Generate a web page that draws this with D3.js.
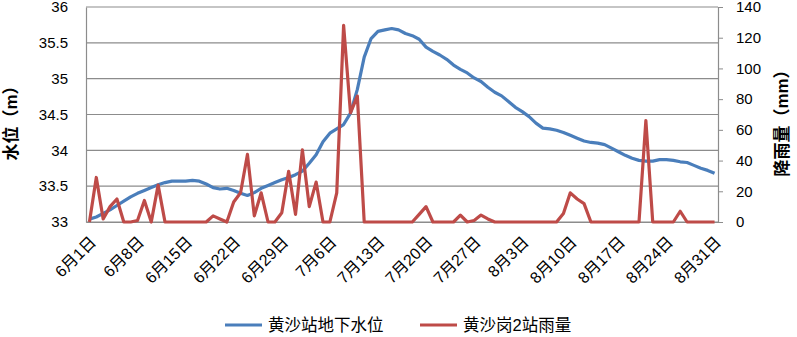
<!DOCTYPE html>
<html>
<head>
<meta charset="utf-8">
<script src="https://cdn.jsdelivr.net/npm/d3@7"></script>
<style>
  body { margin: 0; background: #fff; }
  text { font-family: "Liberation Sans", "Noto Sans CJK SC", sans-serif; }
</style>
</head>
<body>
<div id="canvas"></div>
<script>
// categories: 6月1日 .. 8月31日
const months = [6, 7, 8];
const monthDays = [30, 31, 31];
const dates = [];
months.forEach((m, k) => {
    for (let d = 1; d <= monthDays[k]; d++) dates.push(m + "月" + d + "日");
});

// 黄沙站地下水位 (m)
const waterLevel = [
    33.04, 33.07, 33.12, 33.17, 33.23, 33.29, 33.35, 33.40, 33.44, 33.48,
    33.52, 33.55, 33.57, 33.57, 33.57, 33.58, 33.57, 33.53, 33.48, 33.46,
    33.47, 33.44, 33.40, 33.37, 33.41, 33.47, 33.51, 33.55, 33.59, 33.62,
    33.66, 33.71, 33.82, 33.94, 34.12, 34.24, 34.30, 34.36, 34.52, 34.85,
    35.30, 35.56, 35.66, 35.68, 35.70, 35.68, 35.63, 35.60, 35.55, 35.44,
    35.38, 35.33, 35.27, 35.19, 35.13, 35.08, 35.01, 34.96, 34.88, 34.81,
    34.76, 34.68, 34.60, 34.54, 34.47, 34.38, 34.31, 34.30, 34.28, 34.25,
    34.21, 34.17, 34.13, 34.11, 34.10, 34.08, 34.03, 33.98, 33.93, 33.89,
    33.86, 33.85, 33.85, 33.87, 33.87, 33.86, 33.84, 33.83, 33.79, 33.75,
    33.72, 33.68
];

// 黄沙岗2站雨量 (mm)
const rainfall = [
    0, 29, 2, 10, 15, 0, 0, 1, 14, 0,
    24, 0, 0, 0, 0, 0, 0, 0, 4, 2,
    0, 13, 19, 44, 4, 19, 0, 0, 6, 33,
    5, 47, 10, 26, 0, 0, 19, 128, 71, 82,
    0, 0, 0, 0, 0, 0, 0, 0, 5, 10,
    0, 0, 0, 0, 4.5, 0, 1, 4.5, 2, 0,
    0, 0, 0, 0, 0, 0, 0, 0, 0, 5.5,
    19, 15, 12, 0, 0, 0, 0, 0, 0, 0,
    0, 66, 0, 0, 0, 0, 7, 0, 0, 0,
    0, 0
];

const levelTicks = [33, 33.5, 34, 34.5, 35, 35.5, 36];
const rainTicks = [0, 20, 40, 60, 80, 100, 120, 140];
const labelEvery = 7;

const series = [
    { name: "黄沙站地下水位", color: "#4A7EBB" },
    { name: "黄沙岗2站雨量", color: "#BE4B48" }
];

const width = 797;
const height = 337;
const margin = { top: 7, left: 86, bottom: 115, right: 79 };
const iwidth = width - margin.left - margin.right;
const iheight = height - margin.top - margin.bottom;

const svg = d3.select("#canvas").append("svg")
    .attr("width", width)
    .attr("height", height);

const g = svg.append("g").attr("transform", `translate(${margin.left},${margin.top})`);

const x = d3.scalePoint()
    .domain(d3.range(dates.length))
    .range([0, iwidth])
    .padding(0.5);

const yLeft = d3.scaleLinear().domain([33, 36]).range([iheight, 0]);
const yRight = d3.scaleLinear().domain([0, 140]).range([iheight, 0]);

// gridlines
g.append("g").selectAll("line").data(levelTicks).enter().append("line")
    .attr("x1", 0).attr("x2", iwidth)
    .attr("y1", d => yLeft(d)).attr("y2", d => yLeft(d))
    .attr("stroke", "#8c8c8c").attr("stroke-width", 1.2);

// left axis
const axL = g.append("g")
    .call(d3.axisLeft(yLeft).tickValues(levelTicks).tickSize(0).tickPadding(18).tickFormat(d => d));
axL.select(".domain").attr("stroke", "#8c8c8c").attr("stroke-width", 1.2);
axL.selectAll("text").attr("font-size", 15).attr("fill", "#000");

// right axis
const axR = g.append("g")
    .attr("transform", `translate(${iwidth},0)`)
    .call(d3.axisRight(yRight).tickValues(rainTicks).tickSize(5).tickPadding(13));
axR.select(".domain").attr("stroke", "#8c8c8c").attr("stroke-width", 1.2);
axR.selectAll("line").attr("stroke", "#8c8c8c");
axR.selectAll("text").attr("font-size", 15).attr("fill", "#000");

// bottom axis
const axB = g.append("g")
    .attr("transform", `translate(0,${iheight})`)
    .call(d3.axisBottom(x)
        .tickValues(d3.range(0, dates.length, labelEvery))
        .tickSize(0)
        .tickFormat(i => dates[i]));
axB.select(".domain").attr("stroke", "#8c8c8c").attr("stroke-width", 1.2);
axB.selectAll("text")
    .attr("font-size", 16)
    .attr("fill", "#000")
    .attr("text-anchor", "end")
    .attr("dy", "0.35em")
    .attr("transform", "translate(1,15) rotate(-45)");

// lines
const rainLine = d3.line()
    .x((d, i) => x(i))
    .y(d => yRight(d));
const levelLine = d3.line()
    .x((d, i) => x(i))
    .y(d => yLeft(d));

g.append("path")
    .datum(waterLevel)
    .attr("fill", "none")
    .attr("stroke", series[0].color)
    .attr("stroke-width", 3.2)
    .attr("stroke-linejoin", "round")
    .attr("d", levelLine);

g.append("path")
    .datum(rainfall)
    .attr("fill", "none")
    .attr("stroke", series[1].color)
    .attr("stroke-width", 3.2)
    .attr("stroke-linejoin", "round")
    .attr("d", rainLine);

// axis titles
svg.append("text")
    .attr("transform", "translate(17,119) rotate(-90)")
    .attr("text-anchor", "middle")
    .attr("font-size", 17)
    .attr("font-weight", "bold")
    .attr("font-family", "Noto Sans CJK SC")
    .text("水位（m）");

svg.append("text")
    .attr("transform", "translate(788,119) rotate(-90)")
    .attr("text-anchor", "middle")
    .attr("font-size", 17)
    .attr("font-weight", "bold")
    .attr("font-family", "Noto Sans CJK SC")
    .text("降雨量（mm）");

// legend
const legendX = [225, 420];
const legend = svg.append("g").attr("transform", "translate(0,325)");
series.forEach((s, k) => {
    legend.append("line")
        .attr("x1", legendX[k]).attr("x2", legendX[k] + 37)
        .attr("y1", 0).attr("y2", 0)
        .attr("stroke", s.color).attr("stroke-width", 3.2);
    legend.append("text")
        .attr("x", legendX[k] + 43)
        .attr("y", 0)
        .attr("dy", "0.35em")
        .attr("font-size", 16.5)
        .attr("font-family", "Noto Sans CJK SC")
        .text(s.name);
});
</script>
</body>
</html>
